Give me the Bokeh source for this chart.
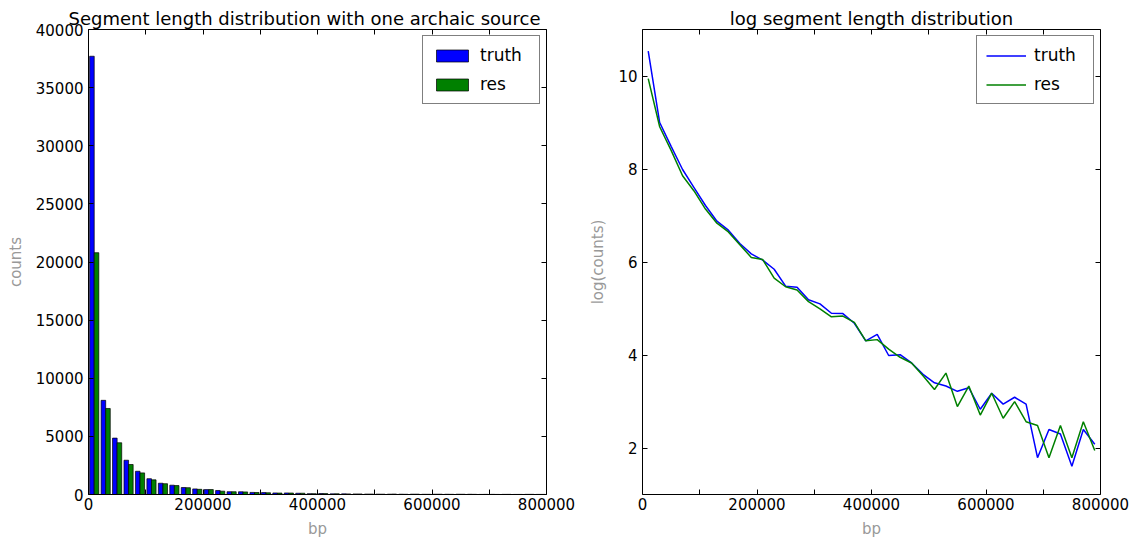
import numpy as np
from bokeh.plotting import figure
from bokeh.layouts import row
from bokeh.models import (FixedTicker, LinearAxis, Range1d, BasicTickFormatter,
                          CustomLabelingPolicy)
from bokeh.embed import file_html
from bokeh.resources import INLINE

# 40 length bins of 20 kb each
bin_width = 20000
n_bins = 40
bin_left = np.arange(n_bins) * bin_width
bin_center = bin_left + bin_width / 2

# segment counts per bin
truth_counts = [37700, 8100, 4850, 2950, 2000, 1360, 970, 800, 600, 480,
                420, 345, 240, 235, 179, 164, 134, 133, 108, 74,
                85, 54, 55, 46, 36, 30, 28, 25, 27, 17,
                24, 19, 22, 19, 6, 11, 10, 5, 11, 8]
res_counts = [20800, 7400, 4450, 2580, 1860, 1260, 930, 770, 585, 445,
              425, 285, 237, 221, 172, 147, 124, 126, 110, 74,
              76, 62, 52, 46, 35, 26, 37, 18, 28, 15,
              24, 14, 20, 13, 12, 6, 12, 6, 13, 7]

x_ticks = [0, 200000, 400000, 600000, 800000]
x_minor = [100000, 300000, 500000, 700000]
count_ticks = list(range(0, 40001, 5000))
log_ticks = [2, 4, 6, 8, 10]

FONT = "DejaVu Sans"
BLUE = "#0000ff"
GREEN = "#008000"


def style_axis(ax, show_labels=True):
    ax.axis_line_color = "black"
    ax.axis_line_width = 1
    ax.major_tick_in = 5
    ax.major_tick_out = 0
    ax.minor_tick_in = 5
    ax.minor_tick_out = 0
    ax.major_tick_line_color = "black"
    ax.minor_tick_line_color = "black"
    ax.major_label_text_font = FONT
    ax.major_label_text_color = "black"
    ax.major_label_text_font_size = "15px"
    ax.axis_label_text_font = FONT
    ax.axis_label_text_font_style = "normal"
    ax.axis_label_text_font_size = "15px"
    ax.axis_label_text_color = "#999999"
    if not show_labels:
        # tick marks only on the mirrored top/right spines
        ax.major_label_policy = CustomLabelingPolicy(code="return new Set()")
        ax.major_label_text_font_size = "0px"
        ax.major_label_standoff = 0


def make_fig(title, y_range, y_ticks, left_border, right_border, y_label):
    p = figure(frame_width=458, frame_height=465,
               min_border_left=left_border, min_border_right=right_border,
               min_border_top=29, min_border_bottom=53,
               x_range=Range1d(0, 800000), y_range=y_range,
               output_backend="svg", toolbar_location=None, title=title)
    p.outline_line_color = None
    p.grid.visible = False
    p.background_fill_color = "white"
    p.border_fill_color = "white"

    p.title.text_font = FONT
    p.title.text_font_size = "18px"
    p.title.text_font_style = "normal"
    p.title.text_color = "black"
    p.title.align = "center"
    p.title.standoff = 2

    p.xaxis.ticker = FixedTicker(ticks=x_ticks, minor_ticks=x_minor)
    p.xaxis.formatter = BasicTickFormatter(use_scientific=False)
    p.xaxis.axis_label = "bp"
    p.xaxis.major_label_standoff = 3
    p.xaxis.axis_label_standoff = 7
    p.yaxis.ticker = FixedTicker(ticks=y_ticks, minor_ticks=[])
    p.yaxis.formatter = BasicTickFormatter(use_scientific=False)
    p.yaxis.axis_label = y_label
    p.yaxis.major_label_standoff = 5
    p.yaxis.axis_label_standoff = 8
    for ax in p.xaxis + p.yaxis:
        style_axis(ax)

    top = LinearAxis(ticker=FixedTicker(ticks=x_ticks, minor_ticks=x_minor))
    right = LinearAxis(ticker=FixedTicker(ticks=y_ticks, minor_ticks=[]))
    style_axis(top, show_labels=False)
    style_axis(right, show_labels=False)
    p.add_layout(top, "above")
    p.add_layout(right, "right")
    return p


def style_legend(p):
    lg = p.legend[0]
    lg.location = "top_right"
    lg.border_line_color = "black"
    lg.border_line_width = 1
    lg.background_fill_color = "white"
    lg.background_fill_alpha = 1
    lg.label_text_font = FONT
    lg.label_text_font_size = "17px"
    lg.label_text_color = "black"
    lg.glyph_width = 40
    lg.glyph_height = 15
    lg.label_height = 20
    lg.label_width = 50
    lg.label_standoff = 8
    lg.padding = 9
    lg.spacing = 9
    lg.margin = 6


# histogram of segment lengths
p1 = make_fig("Segment length distribution with one archaic source",
              Range1d(0, 40000), count_ticks, 88, 40, "counts")
p1.title.align = "left"
p1.title.offset = -20
p1.vbar(x=bin_center - 0.2 * bin_width, top=truth_counts, width=0.4 * bin_width,
        bottom=0, fill_color=BLUE, line_color="black", line_width=0.7,
        legend_label="truth")
p1.vbar(x=bin_center + 0.2 * bin_width, top=res_counts, width=0.4 * bin_width,
        bottom=0, fill_color=GREEN, line_color="black", line_width=0.7,
        legend_label="res")
style_legend(p1)

# log-scaled counts as lines
p2 = make_fig("log segment length distribution",
              Range1d(1, 11), log_ticks, 53, 37, "log(counts)")
p2.line(bin_center, np.log(truth_counts), line_color=BLUE, line_width=1.5,
        legend_label="truth")
p2.line(bin_center, np.log(res_counts), line_color=GREEN, line_width=1.5,
        legend_label="res")
style_legend(p2)

layout = row(p1, p2)
open("out.html", "w").write(file_html(layout, INLINE))
